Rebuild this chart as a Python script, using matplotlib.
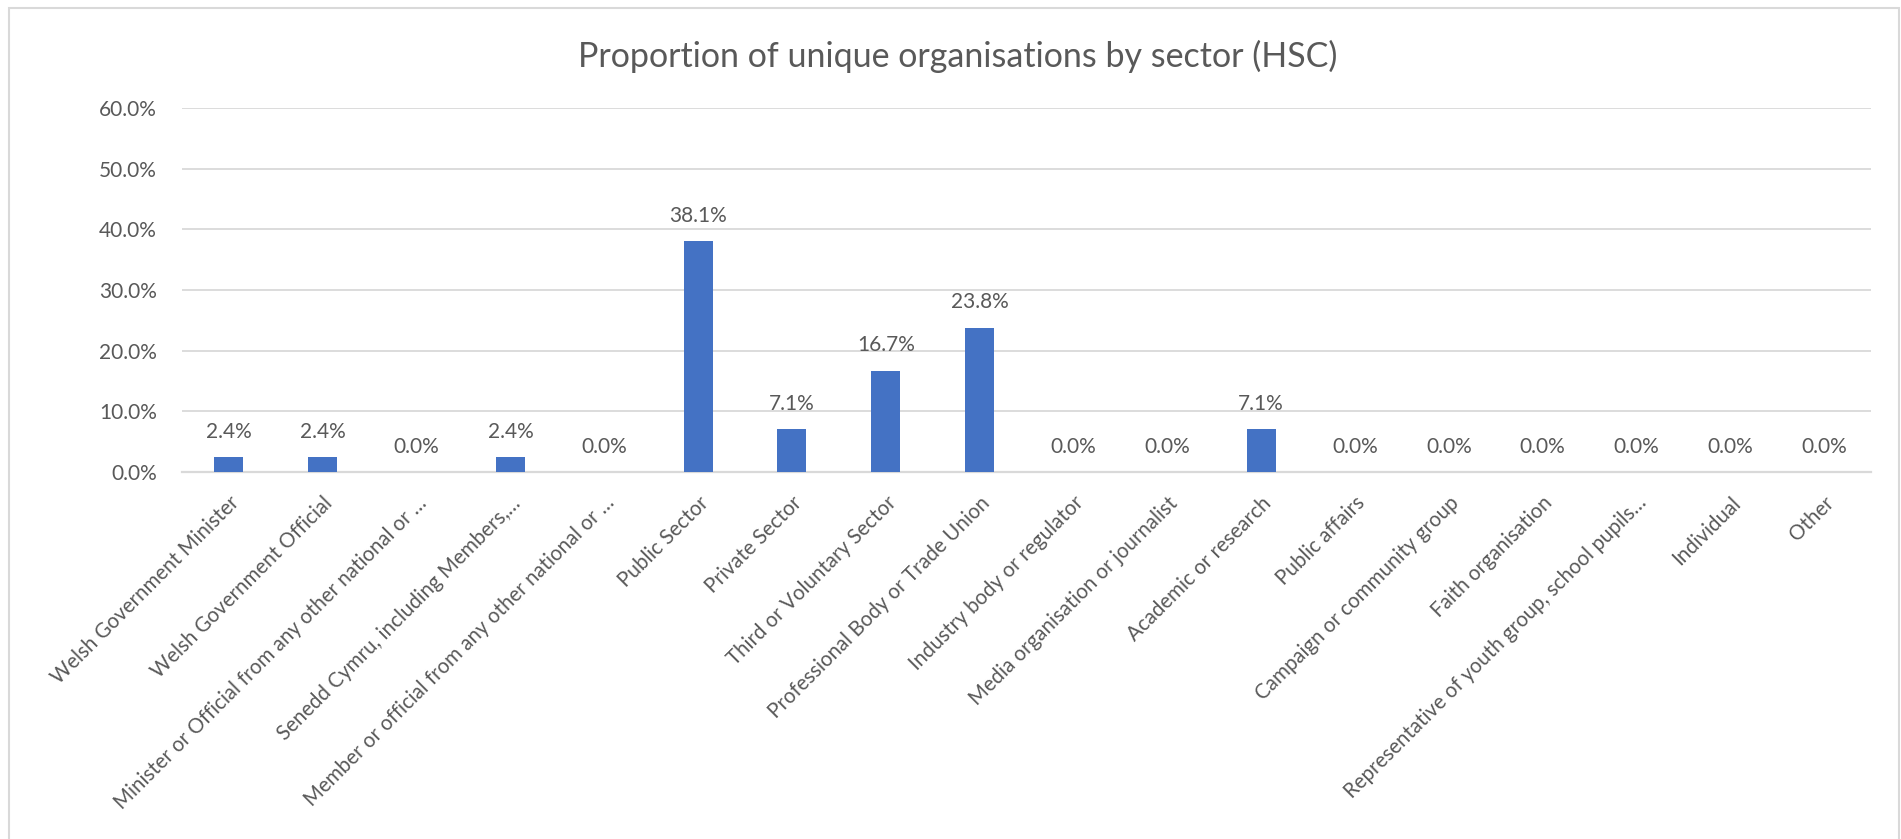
import matplotlib.pyplot as plt
from matplotlib.patches import Rectangle
from matplotlib.transforms import ScaledTranslation

plt.rcParams['font.family'] = ['Lato', 'DejaVu Sans']

sectors = [
    'Welsh Government Minister',
    'Welsh Government Official',
    'Minister or Official from any other national or …',
    'Senedd Cymru, including Members,…',
    'Member or official from any other national or …',
    'Public Sector',
    'Private Sector',
    'Third or Voluntary Sector',
    'Professional Body or Trade Union',
    'Industry body or regulator',
    'Media organisation or journalist',
    'Academic or research',
    'Public affairs',
    'Campaign or community group',
    'Faith organisation',
    'Representative of youth group, school pupils…',
    'Individual',
    'Other',
]
share = [2.4, 2.4, 0.0, 2.4, 0.0, 38.1, 7.1, 16.7, 23.8, 0.0, 0.0, 7.1,
         0.0, 0.0, 0.0, 0.0, 0.0, 0.0]
yticks = [0, 10, 20, 30, 40, 50, 60]

text_col = '#595959'
grid_col = '#D9D9D9'

fig = plt.figure(figsize=(19.01, 8.39), dpi=100)
ax = fig.add_axes([182/1901, 1-472/839, (1871-182)/1901, (472-108)/839])

x = range(len(sectors))
ax.bar(x, share, width=0.31, color='#4472C4', zorder=3)

for i, v in zip(x, share):
    ax.annotate(f'{v:.1f}%', (i, v), xytext=(0, 11), textcoords='offset points',
                ha='center', va='bottom', fontsize=15, color=text_col)

ax.set_xlim(-0.5, len(sectors) - 0.5)
ax.set_ylim(0, 60)
ax.set_yticks(yticks)
ax.set_yticklabels([f'{t:.1f}%' for t in yticks], fontsize=15)
ax.yaxis.grid(True, color=grid_col, linewidth=1.3, zorder=0)
ax.set_xticks(list(x))
ax.set_xticklabels(sectors, rotation=45, ha='right', va='top',
                   rotation_mode='anchor', fontsize=14.8)
shift = ScaledTranslation(6/100, 0, fig.dpi_scale_trans)
for lab in ax.get_xticklabels():
    lab.set_transform(lab.get_transform() + shift)

for s in ['top', 'right', 'left']:
    ax.spines[s].set_visible(False)
ax.spines['bottom'].set_color(grid_col)
ax.spines['bottom'].set_linewidth(1.6)
ax.tick_params(axis='both', length=0, labelcolor=text_col)
ax.tick_params(axis='y', pad=18)
ax.tick_params(axis='x', pad=15)

fig.text(958/1901, 1-56/839, 'Proportion of unique organisations by sector (HSC)',
         ha='center', va='center', fontsize=24.5, color=text_col)

fig.patches.append(Rectangle((9/1901, -0.01), (1899-9)/1901, 1.01-8/839,
                             transform=fig.transFigure, fill=False,
                             edgecolor=grid_col, linewidth=1.5))

fig.savefig('out.png', dpi=100)
